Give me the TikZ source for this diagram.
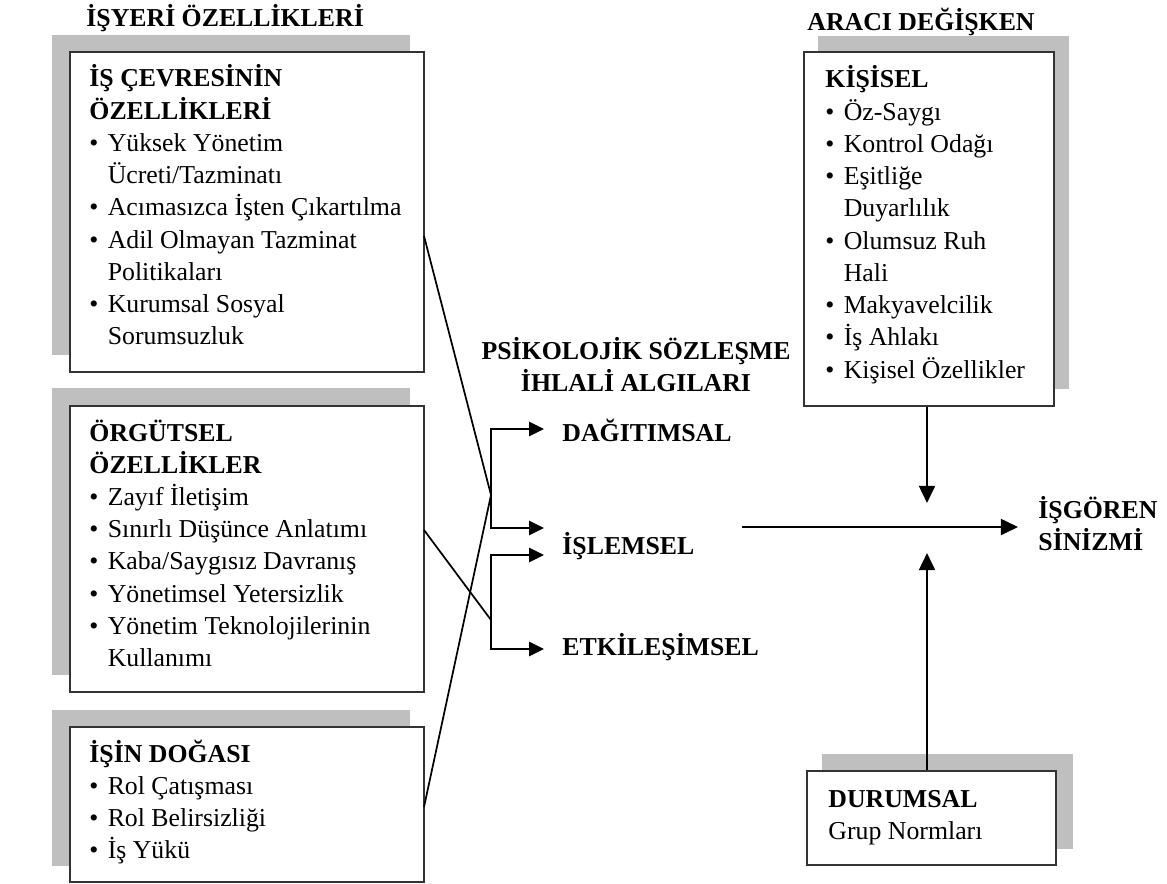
\documentclass[tikz,border=0pt]{standalone}
\usepackage{fontspec}
\setmainfont{Liberation Serif}
\usepackage{tikz}
\usetikzlibrary{arrows.meta, positioning, fit}
\definecolor{shadowgray}{HTML}{BFBFBF}
\definecolor{framegray}{HTML}{333333}
\newcommand{\bpt}{\makebox[3mm][l]{\textbullet}}
\newcommand{\bcont}{\hspace*{3mm}}

\begin{document}
\begin{tikzpicture}[
    x=0.1635mm, y=-0.1635mm,
    font=\fontsize{12}{15}\selectfont,
    panel/.style={draw=framegray, line width=0.9pt, fill=white, inner sep=0pt},
    backdrop/.style={fill=shadowgray},
    txt/.style={anchor=base west, inner sep=0pt, align=flush left, text width=62mm},
    head/.style={anchor=base west, inner sep=0pt, font=\fontsize{12}{15}\selectfont\bfseries},
    link/.style={line width=0.8pt},
    arrow/.style={-{Triangle[length=2.8mm, width=2.6mm]}, line width=1.1pt},
    fork/.style={{Triangle[length=2.45mm, width=2.3mm]}-{Triangle[length=2.45mm, width=2.3mm]}, line width=1.1pt}
]
    \useasboundingbox (0,0) rectangle (1167,883);

    % === Workplace characteristics (left) ===
    \node[head] (workhead) at (86,27) {İŞYERİ ÖZELLİKLERİ};

    \fill[backdrop] (52,35) rectangle (410,355);
    \node[panel, fit={(70,52) (424,372)}] (work) {};
    \node[txt] (worktxt) at (89,87) {\textbf{İŞ ÇEVRESİNİN}\\
        \textbf{ÖZELLİKLERİ}\\
        \bpt Yüksek Yönetim\\
        \bcont Ücreti/Tazminatı\\
        \bpt Acımasızca İşten Çıkartılma\\
        \bpt Adil Olmayan Tazminat\\
        \bcont Politikaları\\
        \bpt Kurumsal Sosyal\\
        \bcont Sorumsuzluk};

    \fill[backdrop] (52,388) rectangle (410,675);
    \node[panel, fit={(70,406) (424,692)}] (org) {};
    \node[txt] (orgtxt) at (89,441) {\textbf{ÖRGÜTSEL}\\
        \textbf{ÖZELLİKLER}\\
        \bpt Zayıf İletişim\\
        \bpt Sınırlı Düşünce Anlatımı\\
        \bpt Kaba/Saygısız Davranış\\
        \bpt Yönetimsel Yetersizlik\\
        \bpt Yönetim Teknolojilerinin\\
        \bcont Kullanımı};

    \fill[backdrop] (52,710) rectangle (410,866);
    \node[panel, fit={(70,727) (424,882)}] (nat) {};
    \node[txt] (nattxt) at (89,762) {\textbf{İŞİN DOĞASI}\\
        \bpt Rol Çatışması\\
        \bpt Rol Belirsizliği\\
        \bpt İş Yükü};

    % === Perceived breach (middle) ===
    \node[anchor=base, inner sep=0pt, align=flush center, text width=70mm, font=\fontsize{12}{15}\selectfont\bfseries]
        (breach) at (636,359) {PSİKOLOJİK SÖZLEŞME\\İHLALİ ALGILARI};
    \node[head] (dist) at (562,441) {DAĞITIMSAL};
    \node[head] (proc) at (562,554) {İŞLEMSEL};
    \node[head] (inter) at (562,655) {ETKİLEŞİMSEL};

    \coordinate (j1) at (491,495);
    \coordinate (j2) at (491,620);
    \coordinate (dtip) at (544,429);
    \coordinate (ptipa) at (544,528);
    \coordinate (ptipb) at (544,555);
    \coordinate (etip) at (544,649);

    \draw[fork] (dtip) -| (j1) |- (ptipa);
    \draw[fork] (ptipb) -| (j2) |- (etip);

    \coordinate (workout) at (424,236);
    \coordinate (orgout) at (424,530);
    \coordinate (natout) at (424,807);
    \draw[link] (workout) -- (j1);
    \draw[link] (natout) -- (j1);
    \draw[link] (orgout) -- (j2);

    % === Moderators (right) ===
    \node[head] (modhead) at (807,31) {ARACI DEĞİŞKEN};

    \fill[backdrop] (818,36) rectangle (1069,389);
    \node[panel, fit={(804,52) (1054,406)}] (pers) {};
    \node[txt] (perstxt) at (825,88) {\textbf{KİŞİSEL}\\
        \bpt Öz-Saygı\\
        \bpt Kontrol Odağı\\
        \bpt Eşitliğe\\
        \bcont Duyarlılık\\
        \bpt Olumsuz Ruh\\
        \bcont Hali\\
        \bpt Makyavelcilik\\
        \bpt İş Ahlakı\\
        \bpt Kişisel Özellikler};

    \fill[backdrop] (822,754) rectangle (1073,849);
    \node[panel, fit={(807,771) (1056,865)}] (sit) {};
    \node[txt] (sittxt) at (828,807) {\textbf{DURUMSAL}\\
        Grup Normları};

    % === Outcome ===
    \node[txt, font=\fontsize{12}{15}\selectfont\bfseries] (cyn) at (1038,518) {İŞGÖREN\\SİNİZMİ};

    \coordinate (hstart) at (742,527);
    \coordinate (hstop) at (1018,527);
    \coordinate (vtop) at (927,503);
    \coordinate (vbot) at (927,553);

    \draw[arrow] (hstart) -- (hstop);
    \draw[arrow] (pers.south -| vtop) -- (vtop);
    \draw[arrow] (sit.north -| vbot) -- (vbot);
\end{tikzpicture}
\end{document}
